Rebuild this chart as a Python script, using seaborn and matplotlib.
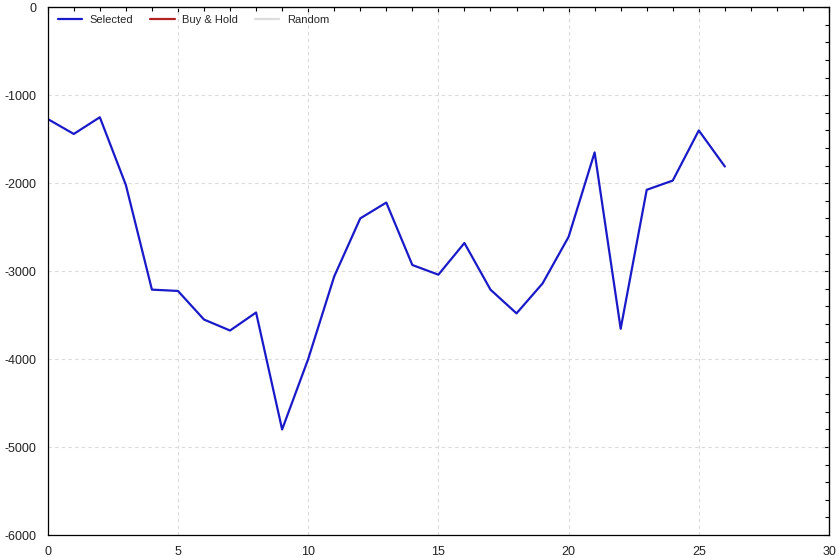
import matplotlib
matplotlib.use("Agg")
import matplotlib.pyplot as plt
import seaborn as sns
import pandas as pd
from matplotlib.ticker import MultipleLocator

periods = list(range(27))
selected = [-1270, -1440, -1250, -2020, -3210, -3225, -3550, -3675, -3470, -4800,
            -4000, -3060, -2400, -2220, -2930, -3040, -2680, -3210, -3480, -3140,
            -2610, -1650, -3655, -2075, -1970, -1400, -1810]
series_names = ["Selected", "Buy & Hold", "Random"]
series_colors = ["#1a1ac8", "#b22222", "#dcdcdc"]
x_ticks = [0, 5, 10, 15, 20, 25, 30]
y_ticks = [-6000, -5000, -4000, -3000, -2000, -1000, 0]

sns.set_style("white")
plt.rcParams["font.family"] = ["Liberation Sans", "DejaVu Sans"]
plt.rcParams["axes.unicode_minus"] = False

fig = plt.figure(figsize=(8.39, 5.58), dpi=100)
ax = fig.add_axes([0.0569, 0.0412, 0.9312, 0.9457])

df = pd.DataFrame({"x": periods, "y": selected})
sns.lineplot(data=df, x="x", y="y", ax=ax, color=series_colors[0], linewidth=1.6, label=series_names[0])
ax.plot([], [], color=series_colors[1], linewidth=1.6, label=series_names[1])
ax.plot([], [], color=series_colors[2], linewidth=1.6, label=series_names[2])

ax.set_xlim(0, 30)
ax.set_ylim(-6000, 0)
ax.set_xticks(x_ticks)
ax.set_yticks(y_ticks)
ax.xaxis.set_minor_locator(MultipleLocator(1))
ax.yaxis.set_minor_locator(MultipleLocator(200))
ax.set_xlabel("")
ax.set_ylabel("")

ax.grid(True, which="major", linestyle=(0, (3, 3)), color="#dadada", linewidth=0.8)
ax.set_axisbelow(True)

for s in ax.spines.values():
    s.set_visible(True)
    s.set_color("black")
    s.set_linewidth(0.9)

ax.tick_params(which="both", direction="inout", colors="black",
               labelcolor="#222222", labelsize=9, width=0.8)
ax.tick_params(which="major", length=6, pad=5)
ax.tick_params(which="minor", length=4)

# inward ticks on top and right sides
top = ax.secondary_xaxis("top")
top.set_xticks(x_ticks)
top.xaxis.set_minor_locator(MultipleLocator(1))
top.tick_params(which="both", direction="in", labeltop=False, width=0.8, colors="black")
top.tick_params(which="major", length=4)
top.tick_params(which="minor", length=3)
right = ax.secondary_yaxis("right")
right.set_yticks(y_ticks)
right.yaxis.set_minor_locator(MultipleLocator(200))
right.tick_params(which="both", direction="in", labelright=False, width=0.8, colors="black")
right.tick_params(which="major", length=4)
right.tick_params(which="minor", length=3)

leg = ax.legend(loc="upper left", bbox_to_anchor=(0.0, 1.005), ncol=3, frameon=False,
                fontsize=8, handlelength=2.2, columnspacing=1.5, handletextpad=0.7)

fig.savefig("out.png", dpi=100)
